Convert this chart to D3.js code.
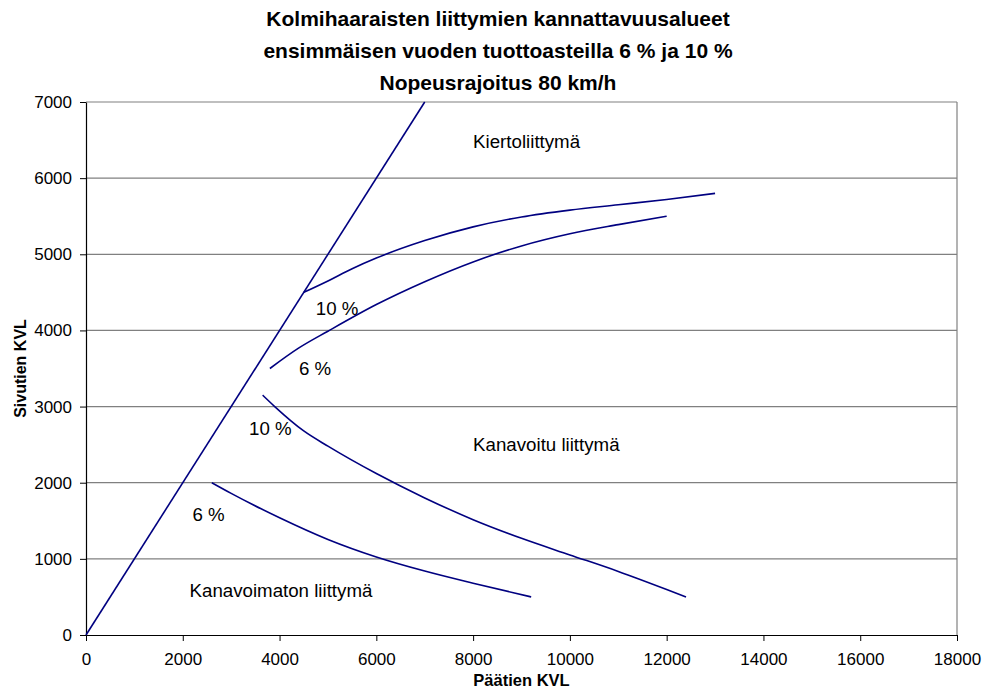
<!DOCTYPE html>
<html>
<head>
<meta charset="utf-8">
<script src="https://cdn.jsdelivr.net/npm/d3@7"></script>
<style>
  body { margin: 0; background: #fff; }
  text { font-family: Arial, "Liberation Sans", sans-serif; fill: #000; }
</style>
</head>
<body>
<div id="chart"></div>
<script>
// chart values
const titleLines = [
  'Kolmihaaraisten liittymien kannattavuusalueet',
  'ensimmäisen vuoden tuottoasteilla 6 % ja 10 %',
  'Nopeusrajoitus 80 km/h'
];
const xTicks = [0, 2000, 4000, 6000, 8000, 10000, 12000, 14000, 16000, 18000];
const yTicks = [0, 1000, 2000, 3000, 4000, 5000, 6000, 7000];

const diagonal = [[0, 0], [7000, 7000]];
const upper10 = [[4500, 4500], [5000, 4650], [5500, 4810], [6000, 4950], [7000, 5180], [8000, 5360],
  [9000, 5490], [10000, 5580], [11000, 5650], [12000, 5720], [13000, 5800]];
const upper6 = [[3800, 3500], [4400, 3770], [5000, 3990], [6000, 4340], [7000, 4640], [8000, 4900],
  [9000, 5110], [10000, 5270], [11000, 5390], [12000, 5500]];
const lower10 = [[3650, 3150], [3900, 3000], [4500, 2680], [5000, 2480], [6000, 2120], [7000, 1800],
  [8000, 1515], [9000, 1270], [10000, 1052], [11000, 835], [12000, 598], [12400, 500]];
const lower6 = [[2600, 2000], [3000, 1860], [4000, 1540], [5000, 1255], [6000, 1025], [7000, 840],
  [8000, 680], [9200, 500]];

const annotations = [
  { text: 'Kiertoliittymä', x: 8000, y: 6400 },
  { text: '10 %', x: 4750, y: 4200 },
  { text: '6 %', x: 4400, y: 3420 },
  { text: '10 %', x: 3370, y: 2630 },
  { text: '6 %', x: 2200, y: 1500 },
  { text: 'Kanavoitu liittymä', x: 8000, y: 2420 },
  { text: 'Kanavoimaton liittymä', x: 2140, y: 500 }
];

const width = 996, height = 689;
const margin = { top: 102, right: 39, bottom: 54, left: 86 };

const svg = d3.select('#chart')
  .append('svg')
  .attr('width', width)
  .attr('height', height);

const x = d3.scaleLinear().domain([0, 18000]).range([margin.left, width - margin.right]);
const y = d3.scaleLinear().domain([0, 7000]).range([height - margin.bottom, margin.top]);

// gridlines
svg.append('g')
  .selectAll('line')
  .data(yTicks.filter(d => d > 0))
  .enter()
  .append('line')
  .attr('x1', x(0))
  .attr('x2', x(18000))
  .attr('y1', d => y(d))
  .attr('y2', d => y(d))
  .attr('stroke', '#808080')
  .attr('stroke-width', 1.2);

// right border
svg.append('line')
  .attr('x1', x(18000)).attr('x2', x(18000))
  .attr('y1', y(0)).attr('y2', y(7000))
  .attr('stroke', '#808080')
  .attr('stroke-width', 1.2);

// axes
const xAxis = svg.append('g')
  .attr('transform', `translate(0, ${y(0)})`)
  .call(d3.axisBottom(x).tickValues(xTicks).tickFormat(d3.format('d')).tickSizeInner(6).tickSizeOuter(0).tickPadding(12));

const yAxis = svg.append('g')
  .attr('transform', `translate(${x(0)}, 0)`)
  .call(d3.axisLeft(y).tickValues(yTicks).tickFormat(d3.format('d')).tickSizeInner(6).tickSizeOuter(0).tickPadding(8));

[xAxis, yAxis].forEach(ax => {
  ax.select('.domain').attr('stroke', '#000').attr('stroke-width', 1.2);
  ax.selectAll('.tick line').attr('stroke', '#000');
  ax.selectAll('.tick text')
    .style('font-family', 'Arial, "Liberation Sans", sans-serif')
    .style('font-size', '17px')
    .attr('fill', '#000');
});

// curves
const line = d3.line()
  .x(d => x(d[0]))
  .y(d => y(d[1]))
  .curve(d3.curveMonotoneX);

svg.append('g')
  .selectAll('path')
  .data([diagonal, upper10, upper6, lower10, lower6])
  .enter()
  .append('path')
  .attr('d', line)
  .attr('fill', 'none')
  .attr('stroke', '#000080')
  .attr('stroke-width', 1.6);

// region and percentage labels
svg.append('g')
  .selectAll('text')
  .data(annotations)
  .enter()
  .append('text')
  .attr('x', d => x(d.x))
  .attr('y', d => y(d.y))
  .style('font-size', '18.7px')
  .text(d => d.text);

// title
svg.append('g')
  .selectAll('text')
  .data(titleLines)
  .enter()
  .append('text')
  .attr('x', 498)
  .attr('y', (d, i) => 26 + i * 32)
  .attr('text-anchor', 'middle')
  .style('font-size', '21px')
  .style('font-weight', 'bold')
  .text(d => d);

// axis titles
svg.append('text')
  .attr('x', (x(0) + x(18000)) / 2)
  .attr('y', 686)
  .attr('text-anchor', 'middle')
  .style('font-size', '16.5px')
  .style('font-weight', 'bold')
  .text('Päätien KVL');

svg.append('text')
  .attr('transform', `translate(26, ${(y(0) + y(7000)) / 2}) rotate(-90)`)
  .attr('text-anchor', 'middle')
  .style('font-size', '16px')
  .style('font-weight', 'bold')
  .text('Sivutien KVL');
</script>
</body>
</html>
